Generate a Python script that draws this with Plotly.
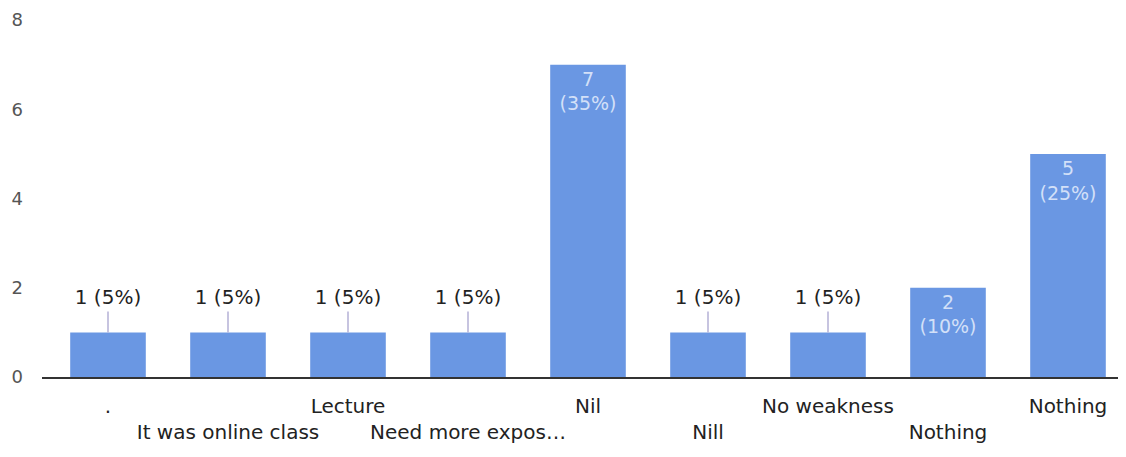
import plotly.graph_objects as go

# Responses (Google Forms style bar chart)
categories = [".", "It was online class", "Lecture", "Need more expos…", "Nil",
              "Nill", "No weakness", "Nothing", "Nothing"]
counts = [1, 1, 1, 1, 7, 1, 1, 2, 5]
percents = [5, 5, 5, 5, 35, 5, 5, 10, 25]
y_ticks = [0, 2, 4, 6, 8]

bar_color = "#6a97e3"
x = list(range(len(categories)))

# Stagger the tick labels over two rows, like the original
tick_text = [c if i % 2 == 0 else " <br>" + c for i, c in enumerate(categories)]

# Small bars get their label above, big ones inside
inside_text = [f"{c}<br>({p}%)" if c > 1 else "" for c, p in zip(counts, percents)]
small = [i for i, c in enumerate(counts) if c == 1]

fig = go.Figure()
fig.add_trace(go.Bar(
    x=x, y=counts,
    marker=dict(color=bar_color, line=dict(width=0)),
    text=inside_text,
    textposition="inside",
    insidetextanchor="end",
    textfont=dict(color="#d3e0f8", size=19),
    error_y=dict(type="data", symmetric=False,
                 array=[0.47 if c == 1 else 0 for c in counts],
                 arrayminus=[0] * len(counts),
                 color="#b4b0d6", thickness=1.5, width=0, visible=True),
    hoverinfo="skip",
))
fig.add_trace(go.Scatter(
    x=[x[i] for i in small],
    y=[counts[i] + 0.74 for i in small],
    text=[f"{counts[i]} ({percents[i]}%)" for i in small],
    mode="text",
    textposition="middle center",
    textfont=dict(color="#222222", size=20),
    hoverinfo="skip",
))

# the page body adds an 8px offset, so margins are trimmed to compensate
fig.update_layout(
    width=1126, height=457,
    margin=dict(l=34, r=0, t=12, b=88),
    paper_bgcolor="white", plot_bgcolor="white",
    font=dict(family="DejaVu Sans, Arial, sans-serif"),
    showlegend=False,
    bargap=0.37,
)
fig.update_xaxes(
    range=[-0.55, 8.55],
    tickvals=x, ticktext=tick_text,
    tickfont=dict(size=20, color="#222222"),
    tickangle=0, automargin=False,
    ticklabelstandoff=10,
    showgrid=False, showline=True, linecolor="#333333", linewidth=2,
    ticks="", zeroline=False,
)
fig.update_yaxes(
    range=[0, 8], tickvals=y_ticks, automargin=False,
    tickfont=dict(size=18, color="#555555"),
    ticklabelstandoff=18,
    showgrid=False, zeroline=False, ticks="",
)

fig.write_html("out.html")
